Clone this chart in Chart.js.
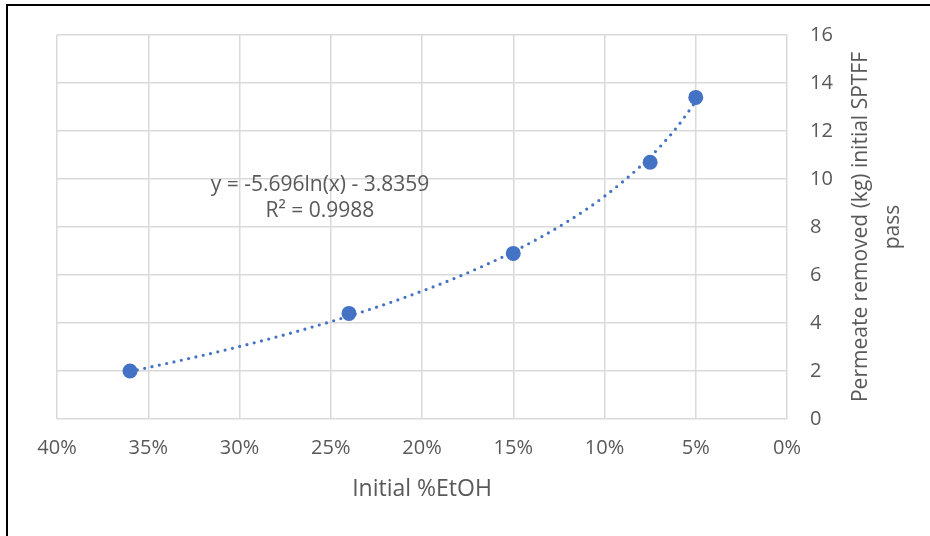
<!DOCTYPE html>
<html>
<head>
<meta charset="utf-8">
<script src="https://cdn.jsdelivr.net/npm/chart.js@4/dist/chart.umd.min.js"></script>
<style>
html,body{margin:0;padding:0;background:#fff;}
#wrap{width:930px;height:536px;position:relative;}
</style>
</head>
<body>
<div id="wrap"><canvas id="c" width="930" height="536"></canvas></div>
<script>
// Data
const ethanolFraction = [0.36, 0.24, 0.15, 0.075, 0.05];
const permeateKg = [2.0, 4.4, 6.9, 10.7, 13.4];
// Dotted log trendline as drawn in the picture
const trendX = [0.36, 0.33, 0.30, 0.27, 0.24, 0.21, 0.18, 0.15, 0.12, 0.10, 0.08, 0.07, 0.06, 0.05];
const trendY = [1.98, 2.48, 3.02, 3.62, 4.29, 5.05, 5.93, 6.97, 8.24, 9.28, 10.55, 11.31, 12.19, 13.23];
const xTickValues = [0.40, 0.35, 0.30, 0.25, 0.20, 0.15, 0.10, 0.05, 0.00];
const equationLines = ['y = -5.696ln(x) - 3.8359', 'R² = 0.9988'];
const xTitle = 'Initial %EtOH';
const yTitleLines = ['Permeate removed (kg) initial SPTFF', 'pass'];

const FONT = '"Open Sans", sans-serif';
const TXT = '#595959';
const BLUE = '#4472C4';
const GRID = '#d9d9d9';

const frame = {
  id: 'frame',
  beforeDraw(chart) {
    const ctx = chart.ctx;
    ctx.save();
    ctx.fillStyle = '#fff';
    ctx.fillRect(0, 0, chart.width, chart.height);
    ctx.strokeStyle = '#000';
    ctx.lineWidth = 2;
    ctx.beginPath();
    ctx.moveTo(7, chart.height);
    ctx.lineTo(7, 5);
    ctx.lineTo(chart.width, 5);
    ctx.stroke();
    ctx.restore();
  },
  afterDraw(chart) {
    const ctx = chart.ctx;
    const xs = chart.scales.x, ys = chart.scales.y;
    ctx.save();
    ctx.fillStyle = TXT;
    ctx.textAlign = 'center';
    ctx.textBaseline = 'middle';
    // trendline label
    ctx.font = '21px ' + FONT;
    const cx = xs.getPixelForValue(0.2559);
    const cy = ys.getPixelForValue(9.73);
    ctx.fillText(equationLines[0], cx, cy);
    ctx.fillText(equationLines[1], cx, cy + 26);
    // x title
    ctx.font = '23px ' + FONT;
    ctx.fillText(xTitle, (chart.chartArea.left + chart.chartArea.right) / 2, 489);
    // y title (reads bottom to top)
    ctx.font = '21px ' + FONT;
    const my = (chart.chartArea.top + chart.chartArea.bottom) / 2;
    ctx.translate(861, my);
    ctx.rotate(-Math.PI / 2);
    ctx.fillText(yTitleLines[0], 0, 0);
    ctx.fillText(yTitleLines[1], 0, 32);
    ctx.restore();
  }
};

new Chart(document.getElementById('c'), {
  type: 'scatter',
  data: {
    datasets: [
      {
        type: 'line',
        data: trendX.map((x, i) => ({x, y: trendY[i]})),
        borderColor: BLUE,
        borderWidth: 3.2,
        borderDash: [0, 7.5],
        borderCapStyle: 'round',
        pointRadius: 0,
        cubicInterpolationMode: 'monotone',
        fill: false,
        order: 1
      },
      {
        data: ethanolFraction.map((x, i) => ({x, y: permeateKg[i]})),
        backgroundColor: BLUE,
        borderColor: BLUE,
        pointRadius: 7.5,
        pointHoverRadius: 7.5,
        borderWidth: 0,
        showLine: false,
        order: 2
      }
    ]
  },
  options: {
    responsive: false,
    animation: false,
    devicePixelRatio: 1,
    layout: { padding: { left: 57, top: 34, right: 0, bottom: 0 } },
    plugins: { legend: { display: false }, tooltip: { enabled: false } },
    scales: {
      x: {
        type: 'linear',
        position: 'bottom',
        reverse: true,
        min: 0, max: 0.4,
        afterBuildTicks(scale) { scale.ticks = xTickValues.map(v => ({value: v})); },
        afterFit(scale) { scale.height = 117; },
        grid: { color: GRID, lineWidth: 1.5, drawTicks: false },
        border: { display: false },
        ticks: {
          color: TXT,
          font: { family: FONT, size: 20 },
          padding: 17,
          maxRotation: 0,
          callback: v => Math.round(v * 100) + '%'
        }
      },
      y: {
        type: 'linear',
        position: 'right',
        min: 0, max: 16,
        afterFit(scale) { scale.width = 143; },
        grid: { color: GRID, lineWidth: 1.5, drawTicks: false },
        border: { display: false },
        ticks: {
          color: TXT,
          font: { family: FONT, size: 20 },
          stepSize: 2,
          padding: 23
        }
      }
    }
  },
  plugins: [frame]
});
</script>
</body>
</html>
